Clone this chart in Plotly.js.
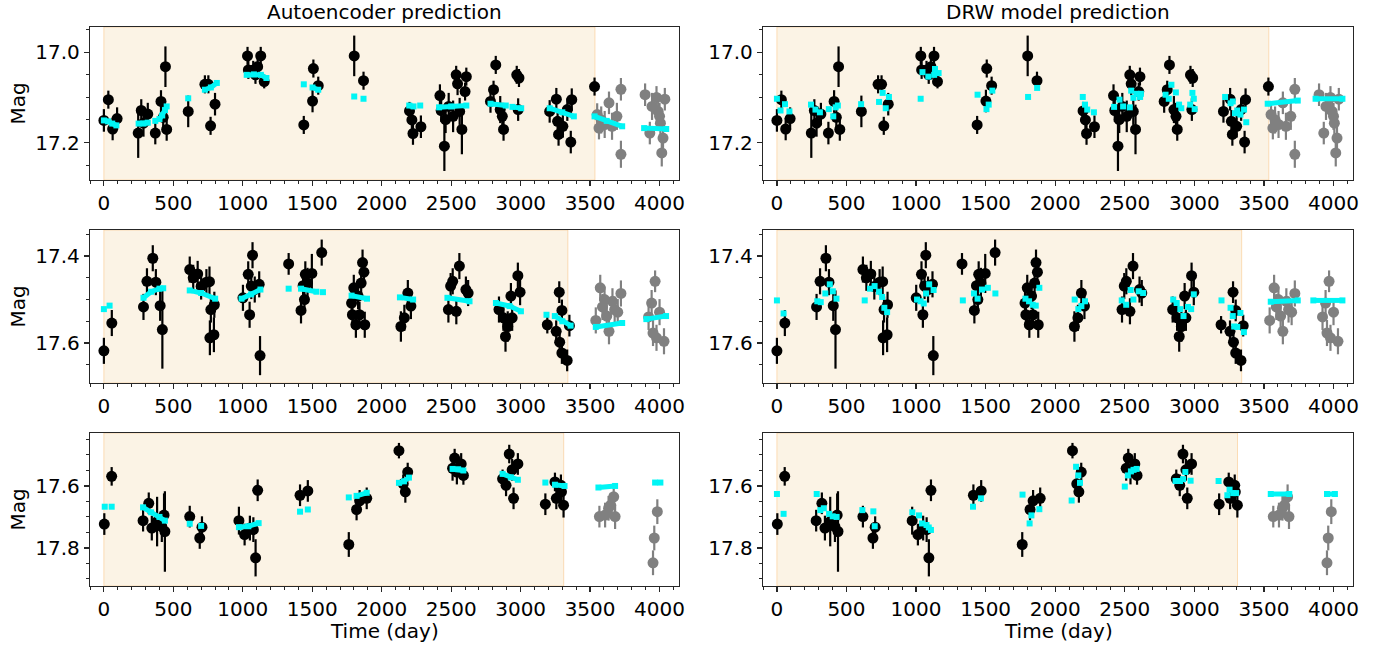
<!DOCTYPE html>
<html><head><meta charset="utf-8">
<script src="https://cdn.plot.ly/plotly-3.0.1.min.js"></script>
<style>body{margin:0;background:#fff}#c{width:1390px;height:647px}</style>
</head><body><div id="c"></div>
<script>
// ---------- Row 1 ----------
const r1_t = [0,32,63,95,247,269,285,316,370,411,427,443,452,607,727,752,768,800,1034,1129,1040,1075,1107,1091,1154,1439,1508,1502,1543,1802,1869,2200,2217,2225,2282,2419,2451,2428,2460,2482,2514,2536,2546,2577,2600,2609,2561,2783,2805,2821,2853,2868,2877,2972,2988,2982,3209,3257,3266,3273,3304,3336,3368,3361,3532];
const r1_m = [17.151,17.105,17.17,17.147,17.179,17.129,17.157,17.137,17.179,17.109,17.144,17.032,17.171,17.131,17.071,17.071,17.163,17.115,17.008,17.008,17.039,17.039,17.032,17.05,17.065,17.161,17.036,17.108,17.074,17.008,17.063,17.130,17.150,17.180,17.165,17.096,17.208,17.129,17.149,17.12,17.142,17.05,17.07,17.171,17.087,17.054,17.131,17.109,17.083,17.028,17.127,17.142,17.171,17.05,17.057,17.127,17.131,17.104,17.153,17.182,17.164,17.127,17.105,17.199,17.076];
const r1_e = [0.025,0.02,0.025,0.025,0.055,0.025,0.03,0.025,0.025,0.025,0.03,0.045,0.025,0.035,0.02,0.02,0.02,0.025,0.02,0.02,0.02,0.02,0.02,0.02,0.015,0.02,0.02,0.025,0.02,0.045,0.02,0.02,0.025,0.025,0.025,0.025,0.055,0.025,0.03,0.03,0.035,0.02,0.025,0.055,0.02,0.02,0.03,0.025,0.02,0.02,0.03,0.03,0.025,0.02,0.02,0.025,0.025,0.025,0.025,0.025,0.025,0.025,0.025,0.025,0.02];
const r1_tt = [3551,3564,3580,3605,3636,3658,3693,3722,3722,3896,3930,3946,3978,3990,4000,4006,4016,4025,4038];
const r1_tm = [17.138,17.168,17.15,17.16,17.112,17.164,17.142,17.082,17.226,17.094,17.179,17.12,17.1,17.131,17.142,17.157,17.223,17.19,17.104];
const r1_te = [0.025,0.025,0.03,0.03,0.025,0.03,0.03,0.025,0.03,0.025,0.025,0.03,0.025,0.025,0.03,0.03,0.03,0.03,0.025];
const ae1_t = [0,30,60,90,null,250,285,316,null,370,null,400,420,440,452,null,607,null,727,770,813,null,1028,1080,1130,1170,null,1439,null,1502,1543,null,1802,null,1869,null,2198,2229,null,2277,null,2413,2500,2609,null,2783,2893,null,2941,3004,null,3209,3300,3383,null,3532,3620,3731,null,3889,4048];
const ae1_m = [17.151,17.153,17.158,17.162,null,17.158,17.158,17.156,null,17.152,null,17.148,17.14,17.128,17.12,null,17.102,null,17.083,17.078,17.068,null,17.05,17.049,17.05,17.057,null,17.071,null,17.078,17.083,null,17.098,null,17.103,null,17.118,17.12,null,17.118,null,17.122,17.12,17.118,null,17.114,17.118,null,17.121,17.124,null,17.124,17.133,17.142,null,17.142,17.152,17.164,null,17.168,17.17];
const drw1_t = [0,26,58,90,245,277,309,373,405,422,438,605,734,760,782,805,1033,1046,1088,1130,1136,1162,1442,1506,1522,1548,1805,1870,2198,2214,2230,2278,2423,2462,2488,2536,2546,2562,2584,2610,2616,2793,2816,2835,2867,2890,2906,2970,2986,2996,3002,3221,3260,3276,3292,3308,3331,3357,3373];
const drw1_m = [17.103,17.129,17.115,17.131,17.116,17.127,17.133,17.126,17.142,17.122,17.118,17.115,17.11,17.09,17.124,17.099,17.103,17.044,17.054,17.05,17.037,17.046,17.094,17.126,17.116,17.085,17.099,17.079,17.099,17.116,17.127,17.133,17.121,17.105,17.12,17.122,17.085,17.101,17.092,17.099,17.092,17.094,17.103,17.072,17.089,17.116,17.124,17.116,17.09,17.103,17.126,17.099,17.113,17.109,17.135,17.129,17.138,17.127,17.155];
const drwf1_t = [3527,3743,null,3871,4064];
const drwf1_m = [17.114,17.107,null,17.103,17.103];

// ---------- Row 2 ----------
const r2_t = [0,57,285,310,352,374,405,421,618,643,675,700,738,760,763,792,795,770,1001,1039,1049,1070,1061,1086,1118,1124,1330,1419,1434,1444,1450,1466,1497,1568,1783,1789,1799,1814,1830,1840,1852,1862,1872,1878,2138,2163,2188,2210,2480,2496,2511,2537,2559,2606,2622,2844,2876,2891,2907,2930,2939,2980,2996,3192,3256,3278,3281,3297,3297,3335,3351];
const r2_m = [17.618,17.554,17.517,17.458,17.405,17.46,17.514,17.569,17.431,17.45,17.441,17.47,17.46,17.459,17.588,17.581,17.512,17.523,17.496,17.442,17.535,17.398,17.469,17.477,17.465,17.629,17.418,17.525,17.468,17.5,17.442,17.462,17.44,17.392,17.508,17.535,17.473,17.558,17.492,17.535,17.462,17.415,17.437,17.558,17.562,17.542,17.485,17.515,17.523,17.469,17.458,17.527,17.423,17.477,17.485,17.523,17.542,17.585,17.562,17.492,17.542,17.445,17.483,17.558,17.573,17.483,17.598,17.525,17.623,17.64,17.56];
const r2_e = [0.03,0.03,0.03,0.03,0.03,0.03,0.035,0.09,0.03,0.03,0.03,0.03,0.03,0.035,0.04,0.04,0.03,0.03,0.03,0.03,0.03,0.03,0.03,0.03,0.03,0.045,0.025,0.03,0.03,0.03,0.03,0.035,0.045,0.03,0.03,0.03,0.03,0.03,0.03,0.03,0.03,0.03,0.03,0.03,0.035,0.03,0.03,0.03,0.03,0.03,0.03,0.03,0.03,0.03,0.03,0.03,0.03,0.035,0.035,0.03,0.03,0.03,0.03,0.02,0.025,0.025,0.025,0.025,0.025,0.025,0.025];
const r2_tt = [3541,3573,3589,3604,3620,3636,3661,3677,3699,3722,3921,3943,3953,3968,3978,4000,4032];
const r2_tm = [17.548,17.473,17.517,17.5,17.538,17.573,17.504,17.523,17.529,17.486,17.54,17.508,17.577,17.458,17.588,17.529,17.596];
const r2_te = [0.03,0.03,0.03,0.03,0.03,0.03,0.03,0.03,0.03,0.03,0.03,0.03,0.03,0.025,0.03,0.03,0.03];
const ae2_t = [0,null,41,null,285,340,400,427,null,618,700,801,null,991,1060,1127,null,1330,null,1419,1530,null,1577,null,1783,1894,null,2131,2226,null,2473,2632,null,2822,2920,3002,null,3186,null,3246,3300,3360,null,3541,3731,null,3905,4047];
const ae2_m = [17.522,null,17.514,null,17.496,17.482,17.475,17.474,null,17.479,17.485,17.498,null,17.498,17.488,17.477,null,17.475,null,17.475,17.482,null,17.483,null,17.491,17.498,null,17.495,17.5,null,17.496,17.504,null,17.508,17.515,17.527,null,17.535,null,17.538,17.55,17.56,null,17.563,17.554,null,17.545,17.538];
const drw2_t = [0,48,290,315,348,380,402,428,631,669,702,734,756,772,792,1007,1033,1055,1072,1094,1126,1336,1416,1442,1474,1516,1570,1786,1812,1838,1860,1886,2140,2166,2188,2214,2478,2510,2542,2562,2600,2632,2848,2873,2899,2922,2954,2977,2996,3195,3260,3276,3286,3308,3331,3356];
const drw2_m = [17.502,17.532,17.504,17.506,17.486,17.465,17.481,17.498,17.502,17.475,17.469,17.482,17.494,17.519,17.529,17.5,17.504,17.509,17.486,17.465,17.478,17.502,17.486,17.498,17.477,17.473,17.486,17.498,17.504,17.512,17.514,17.473,17.5,17.522,17.515,17.504,17.502,17.512,17.478,17.5,17.481,17.485,17.5,17.508,17.522,17.538,17.517,17.522,17.488,17.502,17.519,17.538,17.562,17.563,17.531,17.575];
const drwf2_t = [3549,3743,null,3855,4064];
const drwf2_m = [17.505,17.502,null,17.502,17.502];

// ---------- Row 3 ----------
const r3_t = [3,56,282,323,345,383,417,433,439,618,690,706,972,1013,1051,1076,1092,1107,1412,1468,1763,1819,1841,1892,2124,2155,2170,2187,2510,2525,2541,2572,2588,2870,2895,2918,2939,2949,2980,3178,3247,3257,3290,3294,3309];
const r3_m = [17.723,17.569,17.712,17.656,17.736,17.715,17.731,17.694,17.747,17.699,17.768,17.733,17.712,17.757,17.736,17.741,17.832,17.614,17.63,17.616,17.789,17.676,17.648,17.64,17.486,17.593,17.619,17.555,17.543,17.51,17.555,17.529,17.566,17.577,17.598,17.497,17.548,17.64,17.529,17.659,17.587,17.64,17.598,17.619,17.662];
const r3_e = [0.035,0.03,0.035,0.035,0.04,0.08,0.05,0.07,0.13,0.035,0.035,0.035,0.045,0.035,0.04,0.04,0.06,0.035,0.035,0.035,0.04,0.035,0.035,0.035,0.025,0.03,0.035,0.03,0.04,0.03,0.04,0.035,0.03,0.03,0.035,0.03,0.035,0.035,0.035,0.035,0.03,0.035,0.035,0.035,0.04];
const r3_tt = [3567,3608,3633,3648,3670,3680,3953,3962,3984];
const r3_tm = [17.699,17.694,17.672,17.662,17.635,17.699,17.848,17.768,17.683];
const r3_te = [0.035,0.04,0.04,0.04,0.04,0.04,0.04,0.04,0.04];
const ae3_t = [6,null,56,null,282,340,400,439,null,618,null,700,null,972,1040,1114,null,1412,null,1468,null,1763,null,1819,1892,null,2124,2160,2196,null,2510,2550,2588,null,2870,2930,2980,null,3178,null,3247,3316,null,3560,3680,null,3968,4006];
const ae3_m = [17.667,null,17.667,null,17.669,17.685,17.7,17.712,null,17.722,null,17.729,null,17.733,17.73,17.72,null,17.683,null,17.676,null,17.637,null,17.632,17.622,null,17.59,17.585,17.573,null,17.545,17.546,17.55,null,17.561,17.572,17.58,null,17.589,null,17.596,17.6,null,17.605,17.6,null,17.589,17.589];
const drw3_t = [0,48,286,312,337,375,401,429,614,693,703,973,1021,1043,1075,1091,1107,1409,1466,1765,1816,1829,1886,2118,2150,2166,2178,2500,2522,2544,2563,2585,2865,2897,2919,2935,2973,3174,3237,3253,3279,3300];
const drw3_m = [17.626,17.69,17.626,17.678,17.672,17.69,17.698,17.7,17.678,17.682,17.73,17.685,17.695,17.721,17.726,17.734,17.742,17.667,17.64,17.628,17.721,17.695,17.675,17.647,17.538,17.566,17.59,17.602,17.566,17.553,17.548,17.545,17.584,17.584,17.578,17.555,17.583,17.584,17.63,17.612,17.623,17.623];
const drwf3_t = [3549,3682,null,3953,4010];
const drwf3_m = [17.626,17.626,null,17.626,17.626];

const trainEnd = [3535, 3340, 3310];
const yRanges = [[17.283,16.944],[17.692,17.34],[17.923,17.429]];
const colTitles = ["Autoencoder prediction", "DRW model prediction"];

const rows = [
  {t:r1_t,m:r1_m,e:r1_e,tt:r1_tt,tm:r1_tm,te:r1_te,ae:[ae1_t,ae1_m],dp:[drw1_t,drw1_m],df:[drwf1_t,drwf1_m]},
  {t:r2_t,m:r2_m,e:r2_e,tt:r2_tt,tm:r2_tm,te:r2_te,ae:[ae2_t,ae2_m],dp:[drw2_t,drw2_m],df:[drwf2_t,drwf2_m]},
  {t:r3_t,m:r3_m,e:r3_e,tt:r3_tt,tm:r3_tm,te:r3_te,ae:[ae3_t,ae3_m],dp:[drw3_t,drw3_m],df:[drwf3_t,drwf3_m]}
];

const W = 1390, H = 647;
const xDom = [[90/W, 679/W],[763/W, 1353/W]];
const yPix = [[27,180],[230,383],[433,586]];
const FONT = "DejaVu Sans, Arial, sans-serif";
const AX = '#262626';
const CY = '#00f5f5';

const data = [], shapes = [], annotations = [];
const layout = {
  width: W, height: H, margin:{l:0,r:0,t:0,b:0},
  paper_bgcolor:'#fff', plot_bgcolor:'#fff', showlegend:false,
  font:{family:FONT, size:20, color:'#000'}
};

rows.forEach((R, r) => {
  for (let c = 0; c < 2; c++) {
    const k = r*2 + c + 1;
    const xa = 'x' + (k===1?'':k), ya = 'y' + (k===1?'':k);
    const xk = 'xaxis' + (k===1?'':k), yk = 'yaxis' + (k===1?'':k);
    layout[xk] = {
      domain: xDom[c], anchor: ya, range:[-100, 4140], tick0:0, dtick:500,
      showgrid:false, zeroline:false, showline:true, mirror:true, linecolor:AX, linewidth:1.2,
      ticks:'outside', ticklen:5, tickwidth:1.2, tickcolor:AX,
      minor:{dtick:100, ticks:'outside', ticklen:3, tickwidth:1, tickcolor:AX},
      tickfont:{family:FONT, size:20, color:'#000'}
    };
    layout[yk] = {
      domain:[1 - yPix[r][1]/H, 1 - yPix[r][0]/H], anchor: xa, range: yRanges[r],
      tick0:0, dtick:0.2, tickformat:'.1f',
      showgrid:false, zeroline:false, showline:true, mirror:true, linecolor:AX, linewidth:1.2,
      ticks:'outside', ticklen:5, tickwidth:1.2, tickcolor:AX,
      minor:{dtick:0.05, ticks:'outside', ticklen:3, tickwidth:1, tickcolor:AX},
      tickfont:{family:FONT, size:20, color:'#000'}
    };
    shapes.push({type:'rect', xref:xa, yref:ya+' domain', x0:0, x1:trainEnd[r], y0:0, y1:1,
      fillcolor:'rgb(251,243,229)', line:{color:'rgba(250,200,140,0.6)', width:1}, layer:'below'});
    data.push({type:'scatter', mode:'markers', x:R.t, y:R.m, xaxis:xa, yaxis:ya,
      marker:{color:'#000', size:11},
      error_y:{type:'data', array:R.e, visible:true, color:'#000', thickness:2.2, width:0}});
    data.push({type:'scatter', mode:'markers', x:R.tt, y:R.tm, xaxis:xa, yaxis:ya,
      marker:{color:'#808080', size:11},
      error_y:{type:'data', array:R.te, visible:true, color:'#808080', thickness:2.2, width:0}});
    if (c === 0) {
      data.push({type:'scatter', mode:'lines+markers', x:R.ae[0], y:R.ae[1], xaxis:xa, yaxis:ya,
        connectgaps:false, line:{color:CY, width:5}, marker:{color:CY, size:6, symbol:'square'}});
    } else {
      data.push({type:'scatter', mode:'markers', x:R.dp[0], y:R.dp[1], xaxis:xa, yaxis:ya,
        marker:{color:CY, size:6, symbol:'square'}});
      data.push({type:'scatter', mode:'lines+markers', x:R.df[0], y:R.df[1], xaxis:xa, yaxis:ya,
        connectgaps:false, line:{color:CY, width:5}, marker:{color:CY, size:6, symbol:'square'}});
    }
  }
  annotations.push({text:'Mag', xref:'paper', yref:'paper', x:17/W, y:1-((yPix[r][0]+yPix[r][1])/2)/H,
    textangle:-90, showarrow:false, xanchor:'center', yanchor:'middle', font:{family:FONT,size:20,color:'#000'}});
});

colTitles.forEach((t, c) => {
  annotations.push({text:t, xref:'paper', yref:'paper', x:(xDom[c][0]+xDom[c][1])/2, y:1-12/H,
    showarrow:false, xanchor:'center', yanchor:'middle', font:{family:FONT,size:20,color:'#000'}});
  annotations.push({text:'Time (day)', xref:'paper', yref:'paper', x:(xDom[c][0]+xDom[c][1])/2, y:1-631/H,
    showarrow:false, xanchor:'center', yanchor:'middle', font:{family:FONT,size:20,color:'#000'}});
});

layout.shapes = shapes;
layout.annotations = annotations;
Plotly.newPlot('c', data, layout, {staticPlot:true, displayModeBar:false});
</script></body></html>
